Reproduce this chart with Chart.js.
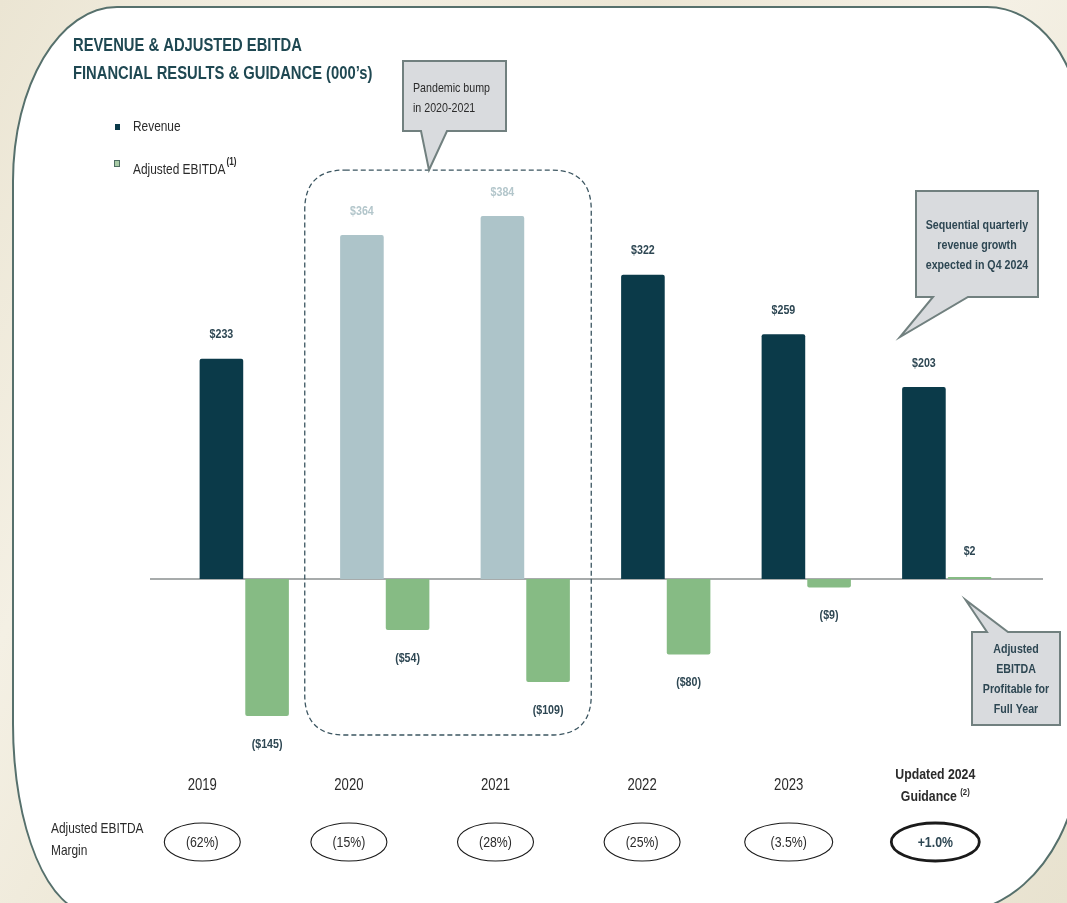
<!DOCTYPE html>
<html>
<head>
<meta charset="utf-8">
<title>Revenue &amp; Adjusted EBITDA</title>
<script src="https://cdn.jsdelivr.net/npm/chart.js@4.4.1/dist/chart.umd.min.js"></script>
<style>
html, body { margin: 0; padding: 0; }
body {
	width: 1067px; height: 903px; overflow: hidden; position: relative;
	background: linear-gradient(118deg, #ebe5d3 0%, #f4f0e4 22%, #ece6d4 42%, #f5f1e6 62%, #e8e2cf 100%);
}
#card {
	position: absolute; left: 12px; top: 6px; width: 1070px; height: 908px;
	box-sizing: border-box; background: #fff; border: 2px solid #56706c;
	border-top-left-radius: 105px 175px;
	border-top-right-radius: 95px 125px;
	border-bottom-left-radius: 80px 190px;
	border-bottom-right-radius: 130px 170px;
}
#revChart { position: absolute; left: 0; top: 0; }
</style>
</head>
<body>
<div id="card"></div>
<canvas id="revChart" width="1067" height="903"></canvas>
<script>
// values in $000's
var years = ['2019', '2020', '2021', '2022', '2023', '2024'];
var revenue = [233, 364, 384, 322, 259, 203];
var ebitda = [-145, -54, -109, -80, -9, 2];
var ebitdaMargin = ['(62%)', '(15%)', '(28%)', '(25%)', '(3.5%)', '+1.0%'];
var pandemicYears = ['2020', '2021'];
var yMin = -200, yMax = 420;

var FACE = "'Liberation Sans', Arial, sans-serif";
var SQUEEZE = 0.82; // no narrow face installed, so text is drawn condensed
var DARK = '#0b3a49', PALE = '#adc4c9', GREEN = '#86bb84', INK = '#2e4753', TEXT = '#2b2b2b';

function font(size, bold){
	return (bold ? 'bold ' : '') + size + 'px ' + FACE;
}

function money(v){
	return v < 0 ? '($' + Math.abs(v) + ')' : '$' + v;
}

function isPandemic(i){
	return pandemicYears.indexOf(years[i]) > -1;
}

function textWidth(ctx, str, size, bold){
	ctx.font = font(size, bold);
	return ctx.measureText(str).width * SQUEEZE;
}

function text(ctx, str, x, y, size, bold, color, align){
	ctx.save();
	ctx.font = font(size, bold);
	ctx.fillStyle = color;
	ctx.textAlign = align || 'center';
	ctx.textBaseline = 'middle';
	ctx.translate(x, y);
	ctx.scale(SQUEEZE, 1);
	ctx.fillText(str, 0, 0);
	ctx.restore();
}

function roundRect(ctx, l, t, r, b, rad){
	ctx.beginPath();
	ctx.moveTo(l + rad, t);
	ctx.lineTo(r - rad, t);
	ctx.quadraticCurveTo(r, t, r, t + rad);
	ctx.lineTo(r, b - rad);
	ctx.quadraticCurveTo(r, b, r - rad, b);
	ctx.lineTo(l + rad, b);
	ctx.quadraticCurveTo(l, b, l, b - rad);
	ctx.lineTo(l, t + rad);
	ctx.quadraticCurveTo(l, t, l + rad, t);
	ctx.closePath();
}

// speech box with a pointer on its top or bottom edge
function callout(ctx, box, base, tip, side){
	ctx.save();
	ctx.beginPath();
	ctx.moveTo(box.l, box.t);
	if(side == 'top'){
		ctx.lineTo(base[0], box.t);
		ctx.lineTo(tip[0], tip[1]);
		ctx.lineTo(base[1], box.t);
	}
	ctx.lineTo(box.r, box.t);
	ctx.lineTo(box.r, box.b);
	if(side == 'bottom'){
		ctx.lineTo(base[1], box.b);
		ctx.lineTo(tip[0], tip[1]);
		ctx.lineTo(base[0], box.b);
	}
	ctx.lineTo(box.l, box.b);
	ctx.closePath();
	ctx.fillStyle = '#d9dbde';
	ctx.fill();
	ctx.lineWidth = 2;
	ctx.strokeStyle = '#71807f';
	ctx.lineJoin = 'miter';
	ctx.stroke();
	ctx.restore();
}

/* S plugins */
var backdrop = {
	id: 'backdrop',
	beforeDatasetsDraw: function(chart){
		var ctx = chart.ctx, xs = chart.scales.x, ys = chart.scales.y, area = chart.chartArea;
		var y0 = ys.getPixelForValue(0);
		ctx.save();
		// zero line
		ctx.strokeStyle = '#8a8f8f';
		ctx.lineWidth = 1.5;
		ctx.beginPath();
		ctx.moveTo(area.left - 24, y0);
		ctx.lineTo(area.right + 26, y0);
		ctx.stroke();

		// dashed frame round the pandemic years
		var first = years.indexOf(pandemicYears[0]), last = years.indexOf(pandemicYears[pandemicYears.length - 1]);
		var top = ys.getPixelForValue(Math.max.apply(null, revenue.slice(first, last + 1))) - 46;
		var bottom = ys.getPixelForValue(Math.min.apply(null, ebitda.slice(first, last + 1))) + 53;
		roundRect(ctx, xs.getPixelForValue(first) - 80, top, xs.getPixelForValue(last) + 66, bottom, 40);
		ctx.setLineDash([5, 3]);
		ctx.lineWidth = 1.3;
		ctx.strokeStyle = '#3b5560';
		ctx.stroke();
		ctx.restore();
	}
};

var annotations = {
	id: 'annotations',
	afterDatasetsDraw: function(chart){
		var ctx = chart.ctx, ys = chart.scales.y;
		var revMeta = chart.getDatasetMeta(0), ebMeta = chart.getDatasetMeta(1);
		ctx.save();

		// value labels
		revMeta.data.forEach(function(bar, i){
			text(ctx, money(revenue[i]), bar.x, bar.y - 24, 13, true, isPandemic(i) ? '#b3c6cb' : INK);
		});
		ebMeta.data.forEach(function(bar, i){
			var v = ebitda[i];
			text(ctx, money(v), bar.x, v < 0 ? bar.y + 28 : bar.y - 26, 13, true, INK);
		});

		// title
		text(ctx, 'REVENUE & ADJUSTED EBITDA', 73, 46, 18, true, '#1f4852', 'left');
		text(ctx, 'FINANCIAL RESULTS & GUIDANCE (000\u2019s)', 73, 74, 18, true, '#1f4852', 'left');

		// legend
		ctx.fillStyle = DARK;
		ctx.fillRect(115, 124, 5, 6);
		text(ctx, 'Revenue', 133, 127, 14.5, false, TEXT, 'left');
		ctx.fillStyle = '#a9cba6';
		ctx.fillRect(115, 161, 5, 6);
		ctx.strokeStyle = '#4e6e62';
		ctx.lineWidth = 1;
		ctx.strokeRect(114.5, 160.5, 5, 6);
		text(ctx, 'Adjusted EBITDA', 133, 170, 14.5, false, TEXT, 'left');
		var w = textWidth(ctx, 'Adjusted EBITDA', 14.5, false);
		text(ctx, '(1)', 133 + w + 1, 162, 10, true, TEXT, 'left');

		// callouts
		var frameTop = ys.getPixelForValue(384) - 46;
		callout(ctx, {l: 403, t: 61, r: 506, b: 131}, [421, 447], [429, frameTop], 'bottom');
		text(ctx, 'Pandemic bump', 413, 88, 13, false, TEXT, 'left');
		text(ctx, 'in 2020-2021', 413, 108, 13, false, TEXT, 'left');

		var lastRev = revMeta.data[revMeta.data.length - 1];
		callout(ctx, {l: 916, t: 191, r: 1038, b: 297}, [933, 968], [lastRev.x - 24, lastRev.y - 50], 'bottom');
		text(ctx, 'Sequential quarterly', 977, 225, 13, true, INK);
		text(ctx, 'revenue growth', 977, 245, 13, true, INK);
		text(ctx, 'expected in Q4 2024', 977, 265, 13, true, INK);

		var lastEb = ebMeta.data[ebMeta.data.length - 1];
		callout(ctx, {l: 972, t: 632, r: 1060, b: 725}, [987, 1008], [lastEb.x - 4, ys.getPixelForValue(0) + 21], 'top');
		text(ctx, 'Adjusted', 1016, 649, 13, true, INK);
		text(ctx, 'EBITDA', 1016, 669, 13, true, INK);
		text(ctx, 'Profitable for', 1016, 689, 13, true, INK);
		text(ctx, 'Full Year', 1016, 709, 13, true, INK);

		// year + margin row
		var colLeft = 129, colW = 146.6;
		text(ctx, 'Adjusted EBITDA', 51, 829, 14.5, false, TEXT, 'left');
		text(ctx, 'Margin', 51, 851, 14.5, false, TEXT, 'left');
		years.forEach(function(yr, i){
			var cx = colLeft + colW * (i + 0.5);
			var guidance = i == years.length - 1;
			if(guidance){
				text(ctx, 'Updated ' + yr, cx, 775, 15, true, TEXT);
				var gw = textWidth(ctx, 'Guidance ', 15, true);
				var sw = textWidth(ctx, '(2)', 9.5, true);
				var sx = cx - (gw + sw) / 2;
				text(ctx, 'Guidance', sx, 797, 15, true, TEXT, 'left');
				text(ctx, '(2)', sx + gw, 792, 9.5, true, TEXT, 'left');
			}else{
				text(ctx, yr, cx, 786, 16, false, TEXT);
			}
			var rx = ebitdaMargin[i].length > 5 || guidance ? 44 : 38;
			ctx.beginPath();
			ctx.ellipse(cx, 842, rx, 19, 0, 0, Math.PI * 2);
			ctx.lineWidth = guidance ? 2.8 : 1.1;
			ctx.strokeStyle = '#1a1a1a';
			ctx.stroke();
			text(ctx, ebitdaMargin[i], cx, 843, 15, guidance, guidance ? INK : TEXT);
		});
		ctx.restore();
	}
};
/* E plugins */

var revChart = new Chart(document.getElementById('revChart').getContext('2d'), {
	type: 'bar',
	data: {
		labels: years,
		datasets: [{
			label: 'Revenue',
			data: revenue,
			backgroundColor: function(c){ return isPandemic(c.dataIndex) ? PALE : DARK; },
			borderRadius: 2,
			borderSkipped: 'start',
			categoryPercentage: 0.65,
			barPercentage: 0.955
		}, {
			label: 'Adjusted EBITDA',
			data: ebitda,
			backgroundColor: GREEN,
			borderRadius: 2,
			borderSkipped: 'start',
			categoryPercentage: 0.65,
			barPercentage: 0.955
		}]
	},
	options: {
		responsive: false,
		animation: false,
		layout: { padding: { left: 174, right: 50, top: 182, bottom: 135 } },
		scales: {
			x: { display: false },
			y: { display: false, min: yMin, max: yMax }
		},
		plugins: {
			legend: { display: false },
			tooltip: { enabled: false }
		}
	},
	plugins: [backdrop, annotations]
});
</script>
</body>
</html>
